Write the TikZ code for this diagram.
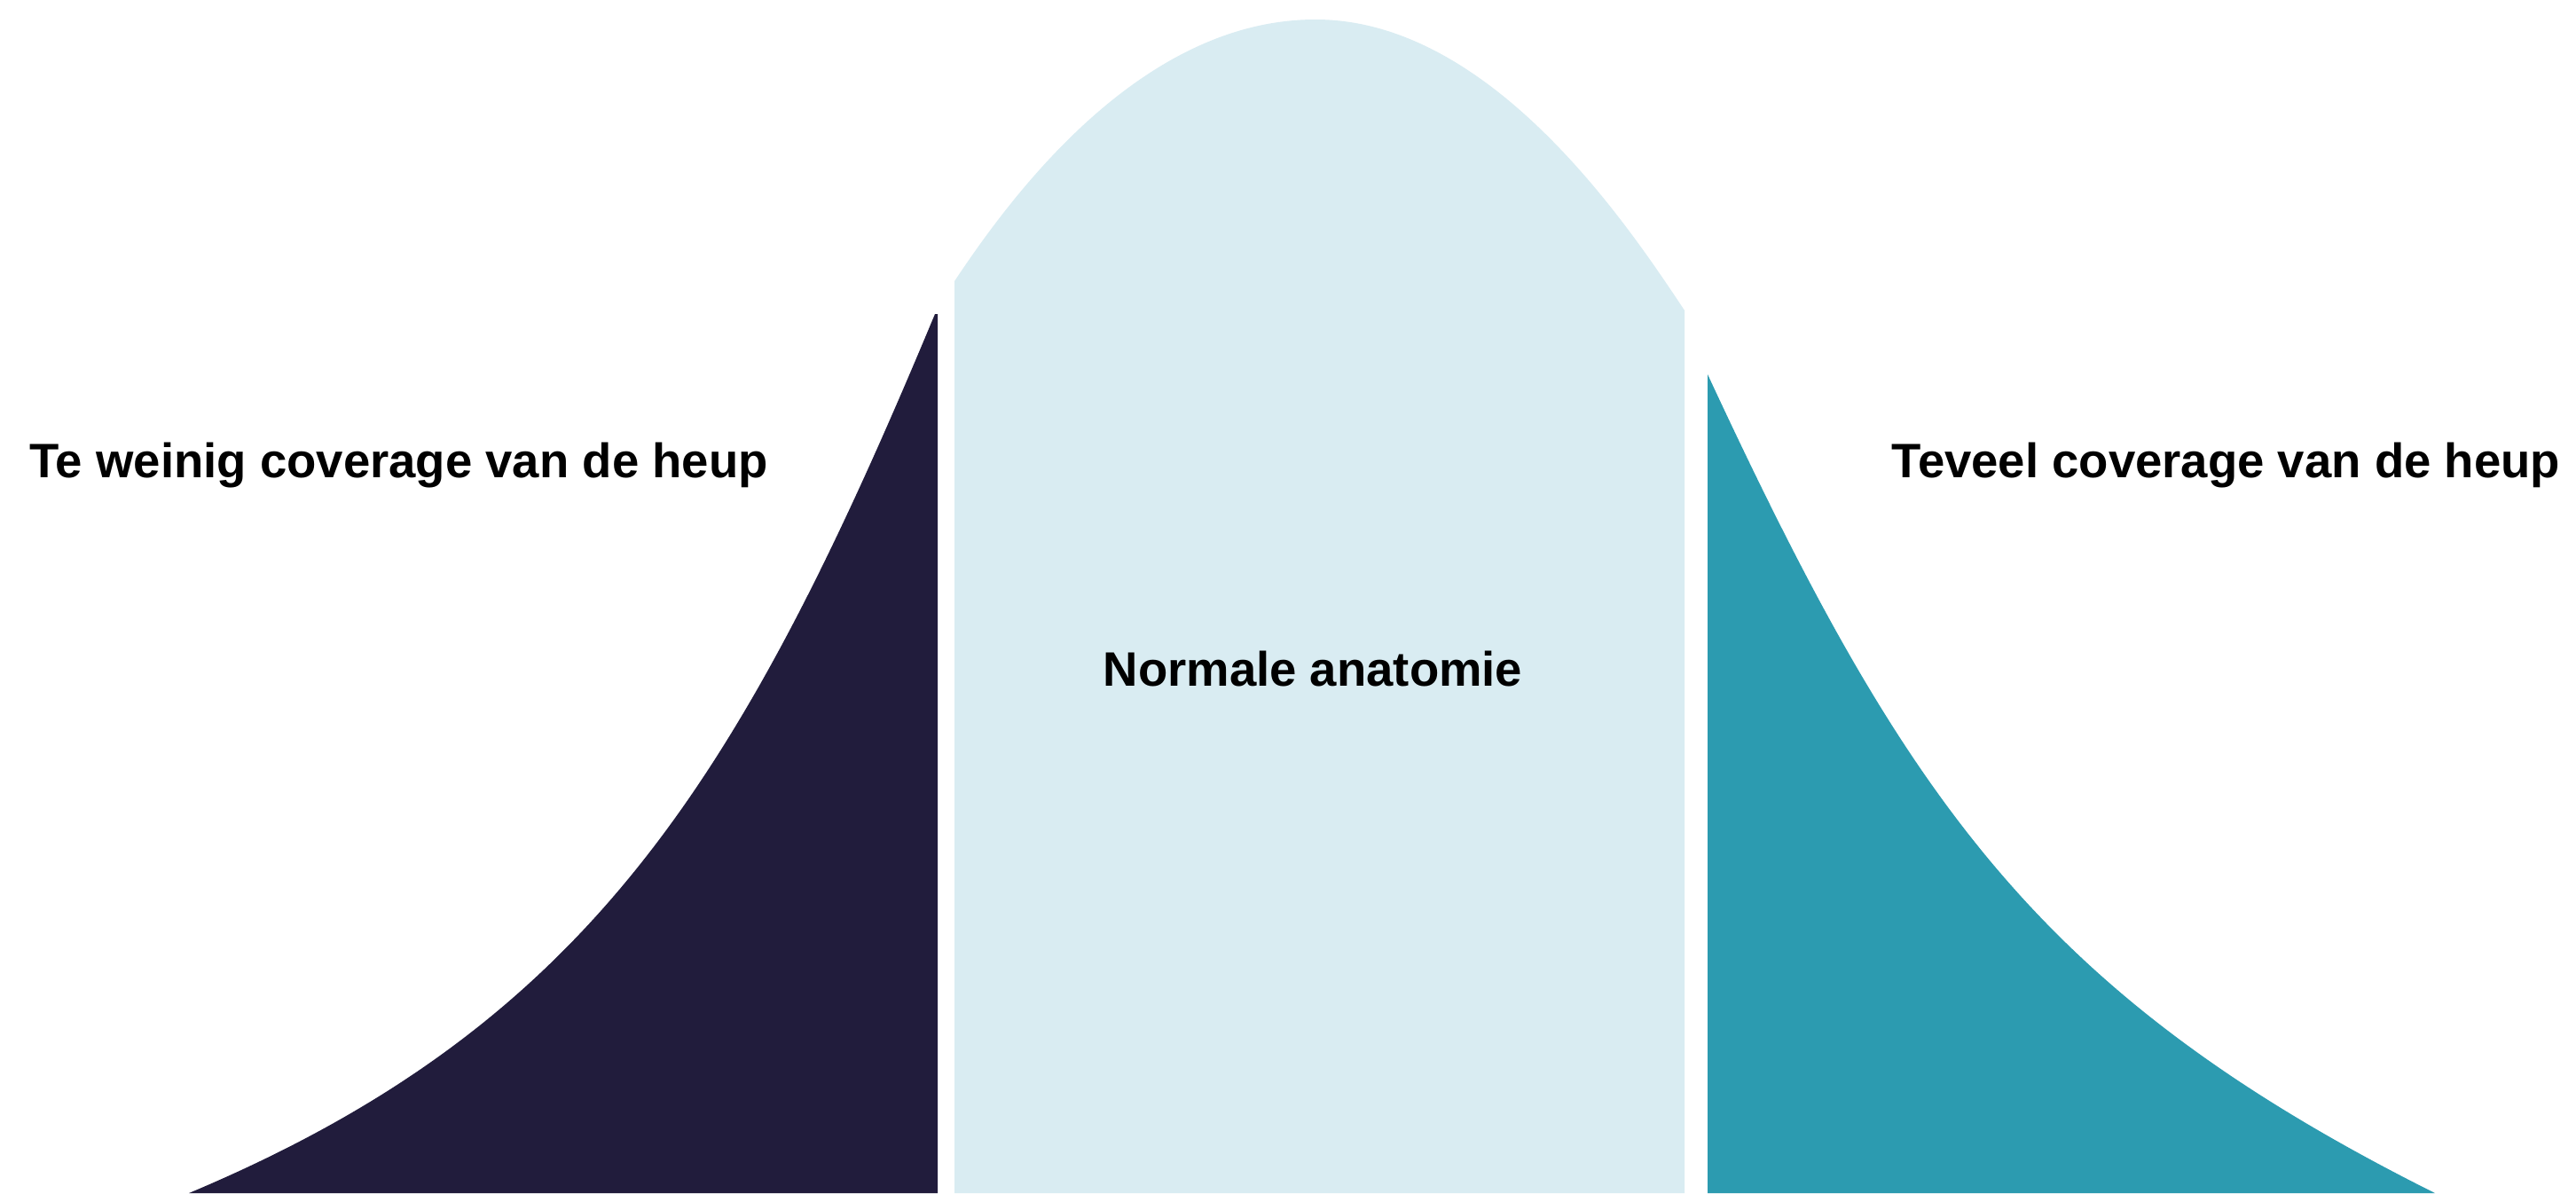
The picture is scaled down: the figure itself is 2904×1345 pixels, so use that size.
\documentclass[tikz,border=0pt]{standalone}
\usepackage{fontspec}
\setmainfont{Liberation Sans}
\definecolor{hipnavy}{HTML}{211C3C}
\definecolor{hippale}{HTML}{D9ECF2}
\definecolor{hipteal}{HTML}{2C9BB0}
\tikzstyle{tooshallow}=[fill=hipnavy]
\tikzstyle{normalpart}=[fill=hippale]
\tikzstyle{toodeep}=[fill=hipteal]
\tikzstyle{bandtext}=[inner sep=0pt, font=\fontsize{15.5}{18}\selectfont\bfseries]

\begin{document}
\begin{tikzpicture}[x=0.01cm, y=-0.01cm]
  \useasboundingbox[fill=white] (0,0) rectangle (2904,1345);

  % left tail
  \fill[tooshallow] (213,1345) .. controls (663,1156) and (834,882) .. (1054,354)
     -- (1057,354) -- (1057,1345) -- cycle;
  % middle part
  \fill[normalpart] (1076,1345) -- (1076,317) .. controls (1136,227) and (1283,22) .. (1483,22)
     .. controls (1683,22) and (1839,260) .. (1899,350) -- (1899,1345) -- cycle;
  % right tail
  \fill[toodeep] (1925,1345) -- (1925,422) .. controls (2146,897) and (2295,1120) .. (2745,1345) -- cycle;

  \node[bandtext, anchor=base west] (few) at (33,538) {Te weinig coverage van de heup};
  \node[bandtext, anchor=base west] (many) at (2132,538) {Teveel coverage van de heup};
  \node[bandtext, anchor=base] (normal) at (1480,773) {Normale anatomie};
\end{tikzpicture}
\end{document}
